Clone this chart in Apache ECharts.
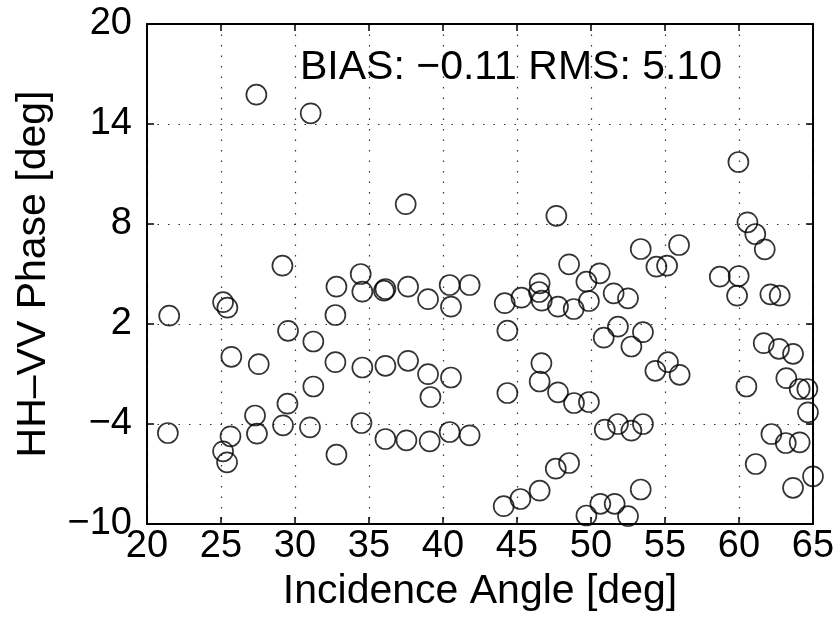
<!DOCTYPE html>
<html><head><meta charset="utf-8">
<script src="https://cdn.jsdelivr.net/npm/echarts@6/dist/echarts.min.js"></script>
<style>html,body{margin:0;padding:0;background:#fff}#c{width:840px;height:624px}</style>
</head><body><div id="c"></div>
<script>
const incidenceAngle = [
  21.5, 21.41, 25.14, 25.43, 25.70, 25.14, 25.41, 25.64, 27.39, 27.55,
  27.30, 27.43, 29.15, 29.53, 29.49, 29.19, 31.06, 31.24, 31.24, 31.01,
  32.80, 32.73, 32.73, 32.80, 34.44, 34.55, 34.55, 34.49, 36.11, 36.01,
  36.11, 36.11, 37.48, 37.64, 37.64, 37.53, 38.99, 38.99, 39.15, 39.10,
  40.45, 40.54, 40.54, 40.45, 41.80, 41.80,
  44.17, 44.35, 44.35, 44.10, 45.30, 45.23, 46.53, 46.49, 46.67, 46.65,
  46.53, 46.53, 47.66, 47.77, 47.77, 47.62, 48.52, 48.83, 48.85, 48.52,
  49.69, 49.86, 49.86, 49.69, 50.59, 50.86, 50.93, 50.63, 51.53, 51.82,
  51.82, 51.60, 52.50, 52.73, 52.73, 52.50, 53.36, 53.51, 53.51, 53.36,
  54.42, 54.35, 55.14, 55.20, 55.95, 55.99, 58.70, 59.98, 59.87, 59.96,
  60.50, 60.57, 61.10, 61.13, 61.74, 61.67, 62.12, 62.19, 62.75, 62.70,
  63.16, 63.20, 63.65, 63.65, 64.10, 64.10, 64.62, 64.66, 65.00
];
const phaseDiff = [
  2.50, -4.54, 3.31, 2.98, 0.03, -5.64, -6.30, -4.74, 15.76, -0.41,
  -3.49, -4.58, 5.50, 1.59, -2.78, -4.08, 14.64, 0.95, -1.75, -4.20,
  4.24, 2.54, -0.29, -5.84, 5.00, 3.94, -0.61, -3.94, 4.10, 4.00,
  -0.51, -4.90, 9.19, 4.24, -0.21, -4.98, 3.49, -1.01, -2.38, -5.04,
  4.34, 3.04, -1.21, -4.48, 4.34, -4.68,
  3.25, 1.60, -2.14, -8.93, 3.58, -8.50, 4.44, 3.92, 3.40, -0.35,
  -1.45, -8.00, 8.49, 3.04, -2.10, -6.68, 5.58, 2.90, -2.74, -6.34,
  4.54, 3.38, -2.68, -9.49, 5.04, 1.18, -4.34, -8.79, 3.84, 1.84,
  -4.00, -8.79, 3.54, 0.65, -4.40, -9.53, 6.50, 1.51, -4.00, -7.93,
  5.44, -0.81, 5.50, -0.29, 6.74, -1.05, 4.84, 4.88, 3.70, 11.72,
  -1.75, 8.10, 7.40, -6.40, 6.48, 0.85, 3.78, -4.60, 3.70, 0.51,
  -5.14, -1.25, 0.21, -7.83, -1.90, -5.10, -1.90, -3.30, -7.14
];
const xTickLabels = [20, 25, 30, 35, 40, 45, 50, 55, 60, 65];
const yTickLabels = [-10, -4, 2, 8, 14, 20];
const xTitle = 'Incidence Angle [deg]';
const yTitle = 'HH\u2013VV Phase [deg]';
const annotationText = 'BIAS: \u22120.11 RMS: 5.10';

const FONT = '"Liberation Sans", Helvetica, Arial, sans-serif';
const xMin = xTickLabels[0], xMax = xTickLabels[xTickLabels.length - 1];
const xStep = xTickLabels[1] - xTickLabels[0];
const yMin = yTickLabels[0], yMax = yTickLabels[yTickLabels.length - 1];
const yStep = yTickLabels[1] - yTickLabels[0];
const fmtNum = v => String(v).replace('-', '\u2212');

const lineStyle = { color: '#000', width: 2 };
const tickStyle = { show: true, inside: true, length: 7, lineStyle: { color: '#000', width: 1.5 } };
const gridLine = { show: true, lineStyle: { color: '#333', width: 1.2, type: [1.5, 9] } };

const chart = echarts.init(document.getElementById('c'), null, { renderer: 'canvas' });
chart.setOption({
  animation: false,
  backgroundColor: '#fff',
  grid: { left: 147, right: 27, top: 24, bottom: 100, containLabel: false },
  xAxis: [
    {
      type: 'value', position: 'bottom', min: xMin, max: xMax, interval: xStep,
      axisLine: { show: true, onZero: false, lineStyle },
      axisTick: tickStyle,
      splitLine: gridLine,
      axisLabel: { fontFamily: FONT, fontSize: 38, color: '#000', margin: 4, formatter: fmtNum,
        showMinLabel: true, showMaxLabel: true },
      name: xTitle, nameLocation: 'middle', nameGap: 44,
      nameTextStyle: { fontFamily: FONT, fontSize: 41, color: '#000' }
    },
    {
      type: 'value', position: 'top', min: xMin, max: xMax, interval: xStep,
      axisLine: { show: true, onZero: false, lineStyle },
      axisTick: tickStyle, axisLabel: { show: false }, splitLine: { show: false }
    }
  ],
  yAxis: [
    {
      type: 'value', position: 'left', min: 0, max: yMax - yMin, interval: yStep,
      axisLine: { show: true, onZero: false, lineStyle },
      axisTick: tickStyle,
      splitLine: gridLine,
      axisLabel: { fontFamily: FONT, fontSize: 38, color: '#000', margin: 15,
        formatter: v => fmtNum(v + yMin), showMinLabel: true, showMaxLabel: true },
      name: yTitle, nameLocation: 'middle', nameGap: 93, nameRotate: 90,
      nameTextStyle: { fontFamily: FONT, fontSize: 41, color: '#000' }
    },
    {
      type: 'value', position: 'right', min: 0, max: yMax - yMin, interval: yStep,
      axisLine: { show: true, onZero: false, lineStyle },
      axisTick: tickStyle, axisLabel: { show: false }, splitLine: { show: false }
    },
    {
      type: 'value', min: yMin, max: yMax, show: false
    }
  ],
  graphic: [{
    type: 'text', left: 300, top: 47, z: 10,
    style: { text: annotationText, fontFamily: FONT, fontSize: 41, fill: '#000' }
  }],
  series: [{
    type: 'scatter', xAxisIndex: 0, yAxisIndex: 2,
    symbol: 'circle', symbolSize: 20,
    itemStyle: { color: 'rgba(0,0,0,0)', borderColor: '#000', borderWidth: 1.7 },
    data: incidenceAngle.map((x, i) => [x, phaseDiff[i]]),
    z: 5
  }]
});
</script>
</body></html>
